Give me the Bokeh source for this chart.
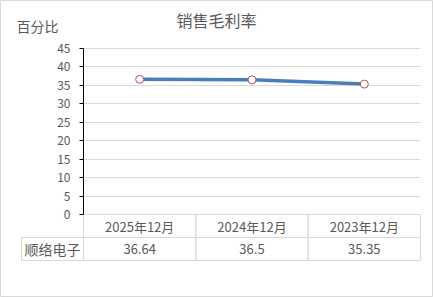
from bokeh.plotting import figure
from bokeh.models import Range1d, FixedTicker
from bokeh.core.properties import value
from bokeh.embed import file_html
from bokeh.resources import INLINE

# ---- data ----
categories = ["2025年12月", "2024年12月", "2023年12月"]
values = [36.64, 36.5, 35.35]
series_name = "顺络电子"
y_ticks = [0, 5, 10, 15, 20, 25, 30, 35, 40, 45]
title_text = "销售毛利率"
y_label = "百分比"

# ---- layout geometry (pixels) ----
W, H = 433, 297
PLOT_L, PLOT_R, PLOT_T, PLOT_B = 83, 420, 48, 214
TABLE_L = 21
ROW_H = 23
n = len(categories)
y_max = y_ticks[-1]

UX = (PLOT_R - PLOT_L) / n
UY = (PLOT_B - PLOT_T) / y_max

def px_x(px):
    return (px - PLOT_L) / UX

def px_y(py):
    return (PLOT_B - py) / UY

FONT = value("Noto Sans CJK SC")
GREY = "#595959"
LINE_GREY = "#d9d9d9"

p = figure(width=W, height=H, output_backend="svg", toolbar_location=None,
           x_range=Range1d(px_x(0), px_x(W)), y_range=Range1d(px_y(H), px_y(0)),
           min_border_left=0, min_border_right=0, min_border_top=0, min_border_bottom=0)
p.outline_line_color = LINE_GREY
p.background_fill_color = "white"
p.border_fill_color = "white"

# axes
p.xaxis.visible = False
yax = p.yaxis[0]
yax.fixed_location = 0
yax.bounds = (0, y_max)
yax.ticker = FixedTicker(ticks=y_ticks)
yax.minor_tick_line_color = None
yax.major_tick_in = 0
yax.major_tick_out = 4
yax.major_label_standoff = 9
yax.axis_line_color = "black"
yax.major_tick_line_color = "black"
yax.major_label_text_color = GREY
yax.major_label_text_font = "Noto Sans CJK SC"
yax.major_label_text_font_size = "12px"

p.xgrid.visible = False
p.ygrid.ticker = FixedTicker(ticks=y_ticks)
p.ygrid.grid_line_color = LINE_GREY
p.ygrid.cross_bounds = (0, n)

# table cells
row1_y = px_y(PLOT_B + ROW_H / 2)
row2_y = px_y(PLOT_B + ROW_H * 1.5)
cell_h = ROW_H / UY
xs = [i + 0.5 for i in range(n)]
p.rect(x=xs + xs, y=[row1_y] * n + [row2_y] * n, width=1, height=cell_h,
       fill_alpha=0, line_color=LINE_GREY, line_width=1)
lab_w = px_x(PLOT_L) - px_x(TABLE_L)
p.rect(x=[(px_x(TABLE_L) + 0) / 2], y=[row2_y], width=lab_w, height=cell_h,
       fill_alpha=0, line_color=LINE_GREY, line_width=1)

# series line & markers
p.line(xs, values, line_color="#4a7ebb", line_width=3.5)
p.scatter(xs, values, size=8, marker="circle", fill_color="white",
          line_color="#c0504d", line_width=1)

# texts
p.text(x=xs, y=[row1_y] * n, text=categories, text_font=FONT, text_font_size="13px",
       text_align="center", text_baseline="middle", text_color=GREY)
p.text(x=xs, y=[row2_y] * n, text=[str(v) for v in values], text_font=FONT,
       text_font_size="13px", text_align="center", text_baseline="middle", text_color=GREY)
p.text(x=[px_x(TABLE_L) / 2], y=[row2_y], text=[series_name], text_font=FONT,
       text_font_size="14px", text_align="center", text_baseline="middle", text_color=GREY)
p.text(x=[px_x(216)], y=[px_y(19)], text=[title_text], text_font=FONT,
       text_font_size="16px", text_align="center", text_baseline="middle", text_color=GREY)
p.text(x=[px_x(37)], y=[px_y(25)], text=[y_label], text_font=FONT,
       text_font_size="14px", text_align="center", text_baseline="middle", text_color=GREY)

open("out.html", "w").write(file_html(p, INLINE))
